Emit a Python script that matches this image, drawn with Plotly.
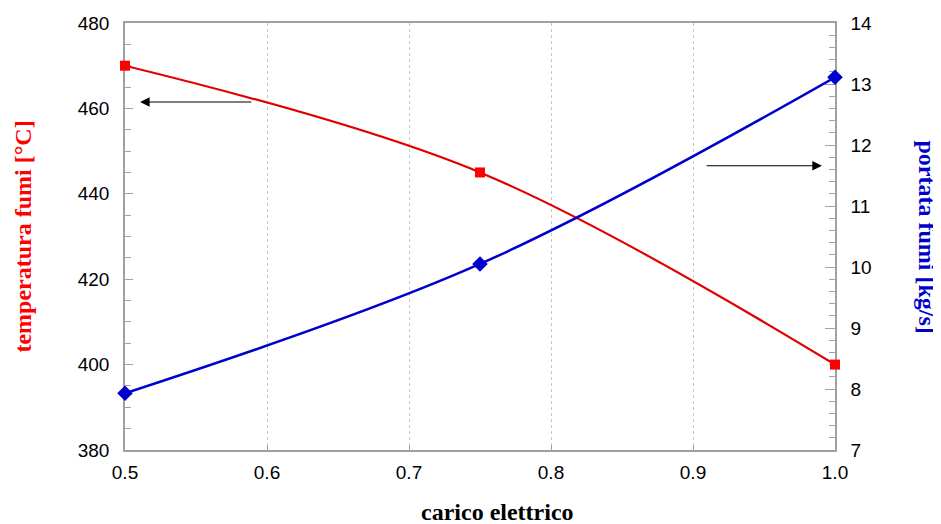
import plotly.graph_objects as go

carico = [0.5, 0.75, 1.0]
temperatura = [470, 445, 400]
portata = [7.93, 10.05, 13.11]

fig = go.Figure()
fig.add_trace(go.Scatter(x=carico, y=temperatura, mode="lines+markers",
                         line=dict(color="#e00000", width=2.2, shape="spline"),
                         marker=dict(symbol="square", size=10, color="#ff0000"),
                         cliponaxis=False, yaxis="y", showlegend=False))
fig.add_trace(go.Scatter(x=carico, y=portata, mode="lines+markers",
                         line=dict(color="#0000cc", width=2.5, shape="spline"),
                         marker=dict(symbol="diamond", size=12, color="#0000cc"),
                         cliponaxis=False, yaxis="y2", showlegend=False))

tickfont = dict(family="Liberation Sans, Arial", size=19, color="black")
# page body has an 8px margin: figure sized/margined to compensate
fig.update_layout(
    width=933, height=516,
    margin=dict(l=117, r=106, t=15, b=74, autoexpand=False),
    paper_bgcolor="white", plot_bgcolor="white",
    xaxis=dict(range=[0.5, 1.0], tickvals=[0.5, 0.6, 0.7, 0.8, 0.9, 1.0],
               ticktext=["0.5", "0.6", "0.7", "0.8", "0.9", "1.0"],
               showgrid=True, gridcolor="#c8c8c8", griddash="dot", gridwidth=1,
               showline=True, linecolor="#a0a0a0", linewidth=1.5, mirror=True,
               ticks="inside", ticklen=5, tickcolor="#a0a0a0",
               ticklabelstandoff=4, automargin=False, layer="below traces",
               tickfont=tickfont, zeroline=False),
    yaxis=dict(range=[380, 480], dtick=20, showgrid=False, zeroline=False,
               showline=True, linecolor="#a0a0a0", linewidth=1.5,
               ticks="inside", ticklen=8, tickcolor="#a0a0a0",
               minor=dict(dtick=5, ticks="inside", ticklen=6, tickcolor="#a0a0a0"),
               ticklabelstandoff=10, automargin=False, layer="below traces",
               tickfont=tickfont),
    yaxis2=dict(range=[7, 14], dtick=1, overlaying="y", side="right",
                showgrid=False, zeroline=False,
                showline=True, linecolor="#a0a0a0", linewidth=1.5,
                ticks="inside", ticklen=10, tickcolor="#a0a0a0",
                minor=dict(dtick=0.2, ticks="inside", ticklen=6, tickcolor="#a0a0a0"),
                ticklabelstandoff=10, automargin=False, layer="below traces",
                tickfont=tickfont),
)

titlefont = "Liberation Serif, Times New Roman"
fig.add_annotation(text="<b>temperatura fumi [°C]</b>", xref="paper", yref="paper",
                   x=-0.145, y=0.5, textangle=-90, showarrow=False,
                   xanchor="center", yanchor="middle",
                   font=dict(family=titlefont, size=24, color="#ff0000"))
fig.add_annotation(text="<b>portata fumi [kg/s]</b>", xref="paper", yref="paper",
                   x=1.1296, y=0.5, textangle=90, showarrow=False,
                   xanchor="center", yanchor="middle",
                   font=dict(family=titlefont, size=24, color="#0000cc"))
fig.add_annotation(text="<b>carico elettrico</b>", xref="paper", yref="paper",
                   x=0.525, y=-0.145, showarrow=False, yanchor="middle",
                   font=dict(family=titlefont, size=24, color="black"))

# arrows pointing to the respective axes
fig.add_annotation(x=0.5106, y=461.5, ax=0.590, ay=461.5, xref="x", yref="y",
                   axref="x", ayref="y", text="", showarrow=True,
                   arrowhead=2, arrowsize=1.6, arrowwidth=1.2, arrowcolor="black")
fig.add_annotation(x=0.9908, y=11.66, ax=0.9085, ay=11.66, xref="x", yref="y2",
                   axref="x", ayref="y2", text="", showarrow=True,
                   arrowhead=2, arrowsize=1.6, arrowwidth=1.2, arrowcolor="black")

fig.write_html("out.html")
